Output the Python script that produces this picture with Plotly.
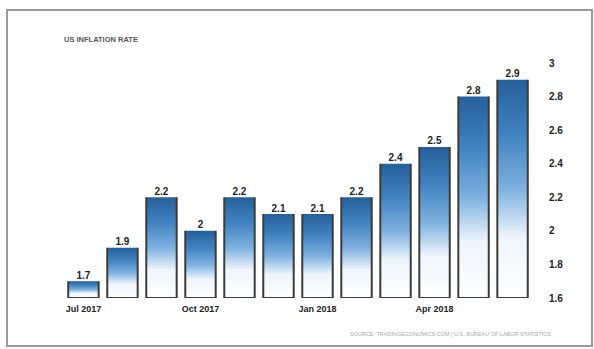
import plotly.graph_objects as go

# US inflation rate, year-on-year (%)
months = ["Jul 2017", "Aug 2017", "Sep 2017", "Oct 2017", "Nov 2017", "Dec 2017",
          "Jan 2018", "Feb 2018", "Mar 2018", "Apr 2018", "May 2018", "Jun 2018"]
rates = [1.7, 1.9, 2.2, 2.0, 2.2, 2.1, 2.1, 2.2, 2.4, 2.5, 2.8, 2.9]
tick_months = ["Jul 2017", "Oct 2017", "Jan 2018", "Apr 2018"]
y_ticks = [1.6, 1.8, 2.0, 2.2, 2.4, 2.6, 2.8, 3.0]
y_tick_text = ["1.6", "1.8", "2", "2.2", "2.4", "2.6", "2.8", "3"]

BASE = 1.6
HALF_W = 0.39
FONT = "Liberation Sans Narrow, Arial Narrow, Liberation Sans, sans-serif"
GRADIENT = [[0.0, "#ffffff"], [0.28, "#eef5fc"], [0.5, "#7db1df"],
            [0.75, "#4182c0"], [1.0, "#25609a"]]

fig = go.Figure()

# each bar: gradient-filled outline open at the top
for i, v in enumerate(rates):
    fig.add_trace(go.Scatter(
        x=[i - HALF_W, i - HALF_W, i + HALF_W, i + HALF_W],
        y=[v, BASE, BASE, v],
        mode="lines",
        fill="toself",
        fillgradient=dict(type="vertical", colorscale=GRADIENT),
        line=dict(color="#3c3c3c", width=2),
        cliponaxis=False,
        hoverinfo="skip",
        showlegend=False,
    ))

# value labels above the bars
fig.add_trace(go.Scatter(
    x=list(range(len(rates))),
    y=rates,
    mode="text",
    text=[f"{v:g}" for v in rates],
    textposition="top center",
    textfont=dict(family=FONT, size=10, color="#222222", weight="bold"),
    cliponaxis=False,
    hoverinfo="skip",
    showlegend=False,
))

tick_pos = [months.index(m) for m in tick_months]

fig.update_layout(
    width=594, height=349,
    margin=dict(l=62, r=60, t=63, b=51),
    paper_bgcolor="white", plot_bgcolor="white",
    font=dict(family=FONT),
    xaxis=dict(
        range=[-0.55, len(rates) - 0.45],
        tickvals=tick_pos, ticktext=tick_months,
        showgrid=False, zeroline=False, showline=False, ticks="",
        tickfont=dict(family=FONT, size=9, color="#222222", weight="bold"),
        ticklabelstandoff=4,
    ),
    yaxis=dict(
        range=[BASE, 3.0], side="right",
        tickvals=y_ticks, ticktext=y_tick_text,
        showgrid=False, zeroline=False, showline=False, ticks="",
        tickfont=dict(family=FONT, size=10, color="#222222", weight="bold"),
        ticklabelstandoff=14,
    ),
    shapes=[dict(
        type="rect", xref="paper", yref="paper",
        x0=-0.1165, x1=1.1229, y0=-0.2043, y1=1.2255,
        line=dict(color="#9a9a9a", width=2),
    )],
    annotations=[
        dict(text="<b>US INFLATION RATE</b>", xref="paper", yref="paper",
             x=0.0, y=1.10, xanchor="left", yanchor="middle", showarrow=False,
             font=dict(family=FONT, size=7.5, color="#555555")),
        dict(text="SOURCE: TRADINGECONOMICS.COM | U.S. BUREAU OF LABOR STATISTICS",
             xref="paper", yref="paper", x=1.04, y=-0.155,
             xanchor="right", yanchor="middle", showarrow=False,
             font=dict(family=FONT, size=5.5, color="#a8a8a8")),
    ],
)

fig.write_html("out.html")
